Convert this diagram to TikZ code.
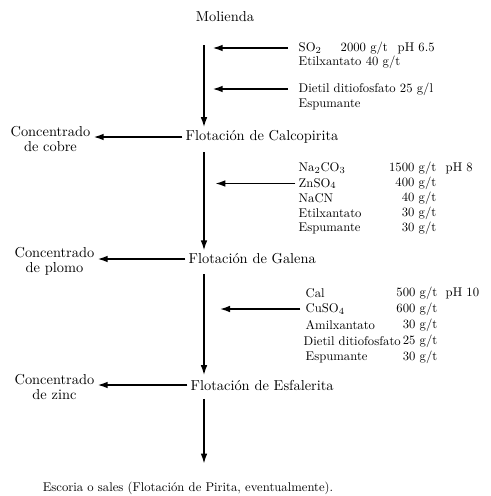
\documentclass[tikz,border=0pt]{standalone}
\usepackage{amsmath}
\usepackage{tikz}
\usetikzlibrary{arrows.meta}

\begin{document}
\begin{tikzpicture}[x = 0.75pt, y = -0.75pt, line width = 1.1pt, >={Latex[length=7.5pt, width=5pt]},
                        paso/.style = {inner sep = 0pt, font = \fontsize{10.8}{13}\selectfont},
                        producto/.style = {inner sep = 0pt, anchor = east, align = center, font = \fontsize{10.8}{11.2}\selectfont},
                        reactivo/.style = {inner sep = 0pt, anchor = west, font = \fontsize{9.5}{11}\selectfont},
                        dosis/.style = {inner sep = 0pt, anchor = east, font = \fontsize{9.5}{11}\selectfont}]
      \useasboundingbox (0, 0) rectangle (490, 496);
      \coordinate (eje) at (204, 0);
      % etapas
      \node [paso] (molienda) at (225, 17) {Molienda};
      \node [paso, anchor = west] (calco) at (185, 137) {Flotación de Calcopirita};
      \node [paso, anchor = west] (galena) at (188, 259) {Flotación de Galena};
      \node [paso, anchor = west] (esfal) at (190, 385) {Flotación de Esfalerita};
      \node [paso, font = \fontsize{9.5}{11}\selectfont] (escoria) at (188, 488) {Escoria o sales (Flotación de Pirita, eventualmente).};
      % concentrados
      \node [producto] (cobre) at (91, 139) {Concentrado\\de cobre};
      \node [producto] (plomo) at (95, 261) {Concentrado\\de plomo};
      \node [producto] (zinc) at (95, 387) {Concentrado\\de zinc};
      % reactivos calcopirita
      \node [reactivo] (so2) at (298, 48) {SO$_2$};
      \node [reactivo] (so2d) at (340, 48) {2000 g/t};
      \node [reactivo] (so2ph) at (397, 48) {pH 6.5};
      \node [reactivo] (etil1) at (298, 62) {Etilxantato 40 g/t};
      \node [reactivo] (dietil1) at (298, 89) {Dietil ditiofosfato 25 g/l};
      \node [reactivo] (espu1) at (298, 104) {Espumante};
      % reactivos galena
      \node [reactivo] (na2co3) at (298, 168) {Na$_2$CO$_3$};
      \node [reactivo] (znso4) at (298, 183.5) {ZnSO$_4$};
      \node [reactivo] (nacn) at (298, 198.5) {NaCN};
      \node [reactivo] (etil2) at (298, 213.5) {Etilxantato};
      \node [reactivo] (espu2) at (298, 228.5) {Espumante};
      \node [dosis] (na2co3d) at (437, 168) {1500 g/t};
      \node [dosis] (znso4d) at (437, 183.5) {400 g/t};
      \node [dosis] (nacnd) at (437, 198.5) {40 g/t};
      \node [dosis] (etil2d) at (437, 213.5) {30 g/t};
      \node [dosis] (espu2d) at (437, 228.5) {30 g/t};
      \node [reactivo] (ph8) at (445, 168) {pH 8};
      % reactivos esfalerita
      \node [reactivo] (cal) at (305, 293) {Cal};
      \node [reactivo] (cuso4) at (305, 309) {CuSO$_4$};
      \node [reactivo] (amil) at (305, 325) {Amilxantato};
      \node [reactivo] (dietil3) at (303, 341) {Dietil ditiofosfato};
      \node [reactivo] (espu3) at (305, 357) {Espumante};
      \node [dosis] (cald) at (438, 293) {500 g/t};
      \node [dosis] (cuso4d) at (438, 309) {600 g/t};
      \node [dosis] (amild) at (438, 325) {30 g/t};
      \node [dosis] (dietil3d) at (438, 341) {25 g/t};
      \node [dosis] (espu3d) at (438, 357) {30 g/t};
      \node [reactivo] (ph10) at (445, 293) {pH 10};
      % flujo principal
      \draw [->, shorten <= 17pt, shorten >= 2pt] (molienda.south -| eje) -- (calco.north -| eje);
      \draw [->, shorten <= 6pt, shorten >= 2pt] (calco.south -| eje) -- (galena.north -| eje);
      \draw [->, shorten <= 7pt, shorten >= 3pt] (galena.south -| eje) -- (esfal.north -| eje);
      \draw [->, shorten <= 6pt, shorten >= 13pt] (esfal.south -| eje) -- (escoria.north -| eje);
      \draw [->, shorten <= 2pt, shorten >= 2pt] (calco.west) -- (calco.west -| cobre.east);
      \draw [->, shorten <= 2pt, shorten >= 2pt] (galena.west) -- (galena.west -| plomo.east);
      \draw [->, shorten <= 2pt, shorten >= 2pt] (esfal.west) -- (esfal.west -| zinc.east);
      % adiciones
      \draw [->, shorten <= 7.5pt, shorten >= 6.5pt] (so2.west) -- (so2.west -| eje);
      \draw [->, shorten <= 7.5pt, shorten >= 6.5pt] (dietil1.west) -- (dietil1.west -| eje);
      \draw [->, shorten <= 2pt, shorten >= 8.5pt] (znso4.west) -- (znso4.west -| eje);
      \draw [->, shorten <= 3.5pt, shorten >= 12pt] (cuso4.west) -- (cuso4.west -| eje);
    \end{tikzpicture}
\end{document}
